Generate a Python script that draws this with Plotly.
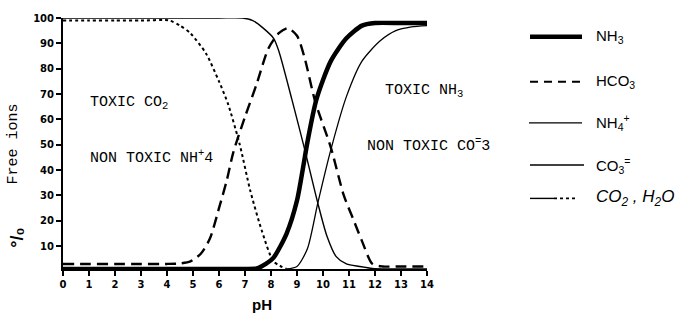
import plotly.graph_objects as go

# ---------------- data ----------------
ph_nh3 = [0, 1, 2, 3, 4, 5, 6, 7, 7.45, 7.8, 8.1, 8.6, 9.0, 9.25, 9.4, 9.75, 10.3, 10.9, 11.5, 12, 13, 14]
nh3 = [1, 1, 1, 1, 1, 1, 1, 1, 1.2, 3, 5.5, 15, 28, 42, 51, 68, 83, 92, 97, 98, 98, 98]

ph_nh4 = [0, 2, 4, 6, 6.9, 7.3, 7.7, 8.1, 8.3, 8.8, 9.3, 9.8, 10.15, 10.5, 10.9, 11.4, 11.9, 12.5, 14]
nh4 = [100, 100, 100, 100, 100, 99, 96, 92, 87, 68, 48, 27, 14, 6, 3, 2, 1.2, 1, 1]

ph_hco3 = [0, 1, 2, 3, 4, 4.5, 4.9, 5.3, 5.65, 6.0, 6.3, 6.55, 7.0, 7.45, 7.9, 8.3, 8.65, 9.0, 9.3, 9.7,
           10.3, 10.8, 11.15, 11.5, 11.9, 12.3, 13, 14]
hco3 = [3, 3, 3, 3, 3, 3.2, 4, 7, 13, 25, 36, 47, 61, 74, 88, 94, 96, 93, 84, 67,
        49, 30, 21, 12, 3, 2, 2, 2]

ph_co3 = [8.6, 9.0, 9.4, 9.8, 10.3, 10.9, 11.5, 12.2, 12.8, 13.4, 14]
co3 = [1, 2, 9, 27, 48, 69, 83, 91, 95, 96.5, 97]

ph_co2 = [0, 1, 2, 3, 4.1, 4.5, 4.9, 5.5, 6.0, 6.35, 6.8, 7.2, 7.65, 8.1, 8.6]
co2 = [99, 99, 99, 99, 99, 97, 94, 86, 75, 66, 50, 32, 16, 4, 1]

x_ticks = list(range(0, 15))
y_ticks = [10, 20, 30, 40, 50, 60, 70, 80, 90, 100]

legend_labels = ["NH<sub>3</sub>", "HCO<sub>3</sub>", "NH<sub>4</sub><sup>+</sup>",
                 "CO<sub>3</sub><sup>=</sup>", "<i>CO<sub>2</sub> , H<sub>2</sub>O</i>"]

region_labels = ["TOXIC CO<sub>2</sub>", "NON TOXIC NH<sup>+</sup>4",
                 "TOXIC NH<sub>3</sub>", "NON TOXIC CO<sup>=</sup>3"]

# ---------------- layout geometry ----------------
W, H = 700, 323
L, R, T, B = 63, 273, 13, 54
PW, PH = W - L - R, H - T - B


def px2x(px):
    return (px - L) / PW


def py2y(py):
    return (H - B - py) / PH


fig = go.Figure()

series = [
    (ph_nh3, nh3, dict(width=4.5)),
    (ph_hco3, hco3, dict(width=2.4, dash="11px,6px")),
    (ph_nh4, nh4, dict(width=1.4)),
    (ph_co3, co3, dict(width=1.3)),
    (ph_co2, co2, dict(width=2.0, dash="dot")),
]
for xs, ys, st in series:
    fig.add_trace(go.Scatter(
        x=xs, y=ys, mode="lines", cliponaxis=False, hoverinfo="skip",
        line=dict(color="black", shape="spline", smoothing=0.7, **st),
    ))

# ---------------- manual legend ----------------
leg_rows_py = [32, 78, 120, 163, 197]
leg_styles = [
    [(530, 582, dict(width=4.5))],
    [(530, 582, dict(width=2.2, dash="8px,6px"))],
    [(529, 582, dict(width=1.4))],
    [(530, 584, dict(width=1.4))],
    [(530, 554, dict(width=1.4)), (554, 576, dict(width=1.6, dash="dot"))],
]
shapes = []
for py, segs in zip(leg_rows_py, leg_styles):
    for x0, x1, st in segs:
        shapes.append(dict(type="line", xref="paper", yref="paper",
                           x0=px2x(x0), x1=px2x(x1), y0=py2y(py), y1=py2y(py),
                           line=dict(color="black", **st)))

annotations = []
leg_fonts = [dict(size=15), dict(size=15), dict(size=15), dict(size=15), dict(size=17)]
for py, lab, fnt in zip(leg_rows_py, legend_labels, leg_fonts):
    annotations.append(dict(text=lab, xref="paper", yref="paper", x=px2x(594), y=py2y(py),
                            xanchor="left", yanchor="middle", showarrow=False,
                            font=dict(family="Liberation Sans", color="black", **fnt)))

# region labels (typewriter)
reg_pos = [(88, 100), (88, 155), (383, 87), (365, 143)]
for (px, py), lab in zip(reg_pos, region_labels):
    annotations.append(dict(text=lab, xref="paper", yref="paper", x=px2x(px), y=py2y(py),
                            xanchor="left", yanchor="middle", showarrow=False,
                            font=dict(family="Liberation Mono", size=15, color="black")))

# axis titles
annotations.append(dict(text="pH", xref="paper", yref="paper", x=px2x(262), y=py2y(305),
                        xanchor="center", yanchor="middle", showarrow=False,
                        font=dict(family="Liberation Sans", size=15, color="black", weight="bold")))
annotations.append(dict(text="Free ions", xref="paper", yref="paper", x=px2x(13), y=py2y(141),
                        xanchor="center", yanchor="middle", showarrow=False, textangle=-90,
                        font=dict(family="Liberation Mono", size=15, color="black")))
annotations.append(dict(text="°/₀", xref="paper", yref="paper", x=px2x(17), y=py2y(237),
                        xanchor="center", yanchor="middle", showarrow=False, textangle=-90,
                        font=dict(family="Liberation Sans", size=18, color="black", weight="bold")))

fig.update_layout(
    width=W, height=H,
    margin=dict(l=L, r=R, t=T, b=B),
    paper_bgcolor="white", plot_bgcolor="white",
    showlegend=False,
    shapes=shapes, annotations=annotations,
    xaxis=dict(range=[0, 14], tickvals=x_ticks, ticks="outside", ticklen=5, tickwidth=1.5,
               tickcolor="black", showline=True, linewidth=2, linecolor="black",
               showgrid=False, zeroline=False,
               tickfont=dict(family="DejaVu Sans", size=10, color="black", weight="bold")),
    yaxis=dict(range=[1, 100], tickvals=y_ticks, ticks="outside", ticklen=5, tickwidth=1.5,
               tickcolor="black", showline=True, linewidth=2, linecolor="black",
               showgrid=False, zeroline=False,
               tickfont=dict(family="DejaVu Sans", size=10, color="black", weight="bold")),
)

fig.write_html("out.html")
